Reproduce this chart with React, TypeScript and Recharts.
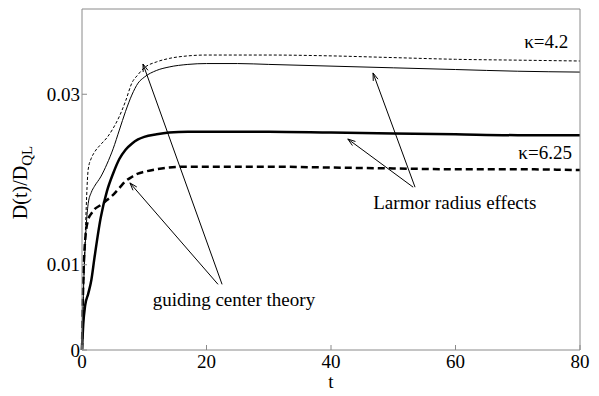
import React from 'react';
import {
  LineChart,
  Line,
  XAxis,
  YAxis,
  ReferenceLine,
  ReferenceDot,
} from 'recharts';

// time samples shared by all four curves
const tValues = [0, 0.2, 0.5, 1, 1.5, 2, 3, 4, 5, 6, 7, 8, 9, 10, 12, 14, 17, 20, 25, 30, 40, 50, 60, 70, 80];

// kappa = 4.2, guiding center (thin dashed)
const gc42 = [0, 0.006, 0.013, 0.0212, 0.0225, 0.0232, 0.0241, 0.0249, 0.026, 0.0274, 0.0292, 0.0313, 0.0323, 0.0331, 0.0338, 0.0342, 0.0345, 0.0346, 0.0346, 0.0346, 0.0345, 0.0343, 0.0341, 0.034, 0.0339];
// kappa = 4.2, Larmor radius (thin solid)
const lr42 = [0, 0.006, 0.012, 0.0172, 0.0185, 0.0192, 0.0203, 0.0218, 0.0236, 0.0258, 0.028, 0.0299, 0.0313, 0.032, 0.0328, 0.0332, 0.0335, 0.0336, 0.0336, 0.0335, 0.0333, 0.0331, 0.0329, 0.0327, 0.0326];
// kappa = 6.25, Larmor radius (thick solid)
const lr625 = [0, 0.003, 0.0052, 0.0066, 0.0082, 0.0108, 0.0155, 0.0186, 0.0207, 0.0224, 0.0235, 0.0242, 0.0247, 0.025, 0.0253, 0.0255, 0.0256, 0.0256, 0.0256, 0.0256, 0.0255, 0.0254, 0.0253, 0.0252, 0.0252];
// kappa = 6.25, guiding center (thick dashed)
const gc625 = [0, 0.008, 0.0128, 0.0153, 0.016, 0.0165, 0.017, 0.0176, 0.0182, 0.019, 0.0198, 0.0203, 0.0207, 0.0209, 0.0212, 0.0214, 0.0215, 0.0215, 0.0215, 0.0215, 0.0214, 0.0213, 0.0212, 0.0212, 0.0211];

const xTicks = [0, 20, 40, 60, 80];
const yTicks = [0, 0.01, 0.03];

const data = tValues.map((t, i) => ({
  t,
  gc42: gc42[i],
  lr42: lr42[i],
  lr625: lr625[i],
  gc625: gc625[i],
}));

// annotation arrows, [tail, head] in data coordinates
const arrows = [
  [{ x: 22.5, y: 0.0077 }, { x: 9.8, y: 0.03355 }],
  [{ x: 21.85, y: 0.0077 }, { x: 7.7, y: 0.0196 }],
  [{ x: 53.5, y: 0.0191 }, { x: 46.75, y: 0.0325 }],
  [{ x: 53.2, y: 0.0191 }, { x: 42.7, y: 0.02475 }],
];

const notes = [
  { x: 78.1, y: 0.0354, text: 'κ=4.2', anchor: 'end' },
  { x: 78.7, y: 0.0224, text: 'κ=6.25', anchor: 'end' },
  { x: 59.9, y: 0.0165, text: 'Larmor radius effects', anchor: 'middle' },
  { x: 24.4, y: 0.0052, text: 'guiding center theory', anchor: 'middle' },
];

const FONT = 'Liberation Serif, serif';
const AXIS = '#8a8a8a';

const Arrow = (p: any) => {
  const { x1, y1, x2, y2 } = p;
  const a = Math.atan2(y2 - y1, x2 - x1);
  const len = 8;
  const spread = 0.32;
  const ax = x2 - len * Math.cos(a - spread);
  const ay = y2 - len * Math.sin(a - spread);
  const bx = x2 - len * Math.cos(a + spread);
  const by = y2 - len * Math.sin(a + spread);
  return (
    <g stroke="#000" strokeWidth={1} fill="none">
      <line x1={x1} y1={y1} x2={x2} y2={y2} />
      <polyline points={`${ax},${ay} ${x2},${y2} ${bx},${by}`} />
    </g>
  );
};

const YLabel = (props: any) => {
  const vb = props.viewBox || { x: 0, y: 0, width: 82, height: 341 };
  const cx = vb.x + 27;
  const cy = vb.y + vb.height / 2 + 3;
  return (
    <text
      x={cx}
      y={cy}
      transform={`rotate(-90, ${cx}, ${cy})`}
      textAnchor="middle"
      style={{ fontFamily: FONT }}
      fontSize={20}
      fill="#000"
    >
      <tspan>D(t)/D</tspan>
      <tspan dy={5} fontSize={15}>QL</tspan>
    </text>
  );
};

export default function App() {
  return (
    <div style={{ position: 'absolute', left: 0, top: 0, background: '#fff', fontFamily: FONT }}>
      <LineChart
        width={599}
        height={396}
        data={data}
        margin={{ top: 0, right: 0, bottom: 0, left: 0 }}
        style={{ fontFamily: FONT }}
      >
        <XAxis
          dataKey="t"
          type="number"
          domain={[0, 80]}
          ticks={xTicks}
          height={46}
          stroke={AXIS}
          tickSize={-5}
          tickMargin={10}
          tick={{ fill: '#000', fontSize: 19, style: { fontFamily: FONT } }}
          label={{ value: 't', position: 'insideBottom', offset: 8, fill: '#000', fontSize: 19, style: { fontFamily: FONT } }}
        />
        <XAxis
          xAxisId="top"
          orientation="top"
          type="number"
          domain={[0, 80]}
          ticks={xTicks}
          height={9}
          stroke={AXIS}
          tickSize={-5}
          tick={false}
        />
        <YAxis
          type="number"
          domain={[0, 0.04]}
          ticks={yTicks}
          width={82}
          stroke={AXIS}
          tickSize={-5}
          tickMargin={7}
          tickFormatter={(v: number) => (v === 0 ? '0' : String(v))}
          tick={{ fill: '#000', fontSize: 19, style: { fontFamily: FONT } }}
          label={{ content: YLabel }}
        />
        <YAxis
          yAxisId="right"
          orientation="right"
          type="number"
          domain={[0, 0.04]}
          ticks={yTicks}
          width={19}
          stroke={AXIS}
          tickSize={-5}
          tick={false}
        />
        <Line dataKey="gc42" type="monotone" stroke="#000" strokeWidth={1} strokeDasharray="3 2" dot={false} isAnimationActive={false} />
        <Line dataKey="lr42" type="monotone" stroke="#000" strokeWidth={1} dot={false} isAnimationActive={false} />
        <Line dataKey="lr625" type="monotone" stroke="#000" strokeWidth={2.5} dot={false} isAnimationActive={false} />
        <Line dataKey="gc625" type="monotone" stroke="#000" strokeWidth={2.5} strokeDasharray="7 4" dot={false} isAnimationActive={false} />
        {arrows.map((seg, i) => (
          <ReferenceLine key={`a${i}`} segment={seg} shape={Arrow} />
        ))}
        {notes.map((n, i) => (
          <ReferenceDot
            key={`n${i}`}
            x={n.x}
            y={n.y}
            r={0}
            shape={(p: any) => (
              <text x={p.cx} y={p.cy} textAnchor={n.anchor} style={{ fontFamily: FONT }} fontSize={19} fill="#000">
                {n.text}
              </text>
            )}
          />
        ))}
      </LineChart>
    </div>
  );
}
